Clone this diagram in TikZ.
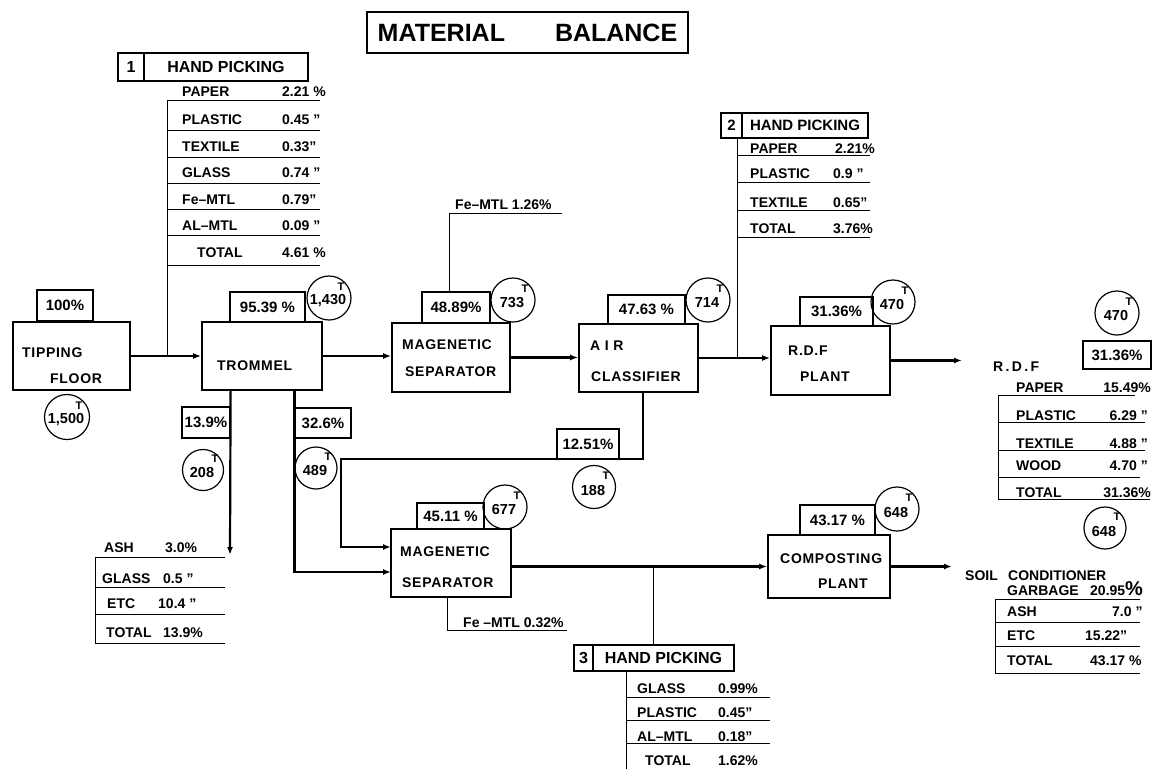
\documentclass[tikz,border=0pt]{standalone}
\usepackage{fontspec}
\setmainfont{Liberation Sans}
\newfontfamily\widefont[LetterSpace=5]{Liberation Sans}
\usetikzlibrary{arrows.meta,calc}
\tikzset{
  lbl/.style={font=\bfseries\fontsize{14}{14}\selectfont, inner sep=0pt, anchor=base west},
  vale/.style={font=\bfseries\fontsize{14}{14}\selectfont, inner sep=0pt, anchor=base east},
  boxlbl/.style={font=\widefont\bfseries\fontsize{14}{14}\selectfont, inner sep=0pt, anchor=base west},
  unit/.style={draw, line width=1.7pt, inner sep=0pt},
  pbox/.style={draw, line width=1.2pt, inner sep=0pt, font=\bfseries\fontsize{15}{15}\selectfont},
  ton/.style={draw, circle, line width=1.2pt, inner sep=0pt},
  tonnum/.style={font=\bfseries\fontsize{14.5}{14.5}\selectfont, inner sep=0pt},
  tmark/.style={font=\bfseries\fontsize{11}{11}\selectfont, inner sep=0pt},
  flow/.style={line width=2.2pt, -{Latex[length=8pt,width=6pt]}},
  rule/.style={line width=0.9pt},
  hpcell/.style={draw, line width=1.3pt, inner sep=0pt, font=\bfseries\fontsize{16}{16}\selectfont},
}
\newcommand\tonc[5]{%
  \node[ton, minimum size=#5pt] (#1) at (#2,#3) {};
  \node[tonnum] (#1n) at ($(#1)+(-1,3)$) {#4};
  \node[tmark] (#1t) at ($(#1)+(12,-11)$) {T};}
\begin{document}
\begin{tikzpicture}[x=1pt,y=-1pt]
\useasboundingbox (0,0) rectangle (1165,769);

% title
\node[draw, line width=2.6pt, minimum width=321pt, minimum height=41pt, inner sep=0pt,
      font=\bfseries\fontsize{25}{25}\selectfont] (title) at (527.5,32.5) {MATERIAL\hspace{50pt}BALANCE};

% process units
\node[unit, minimum width=117pt, minimum height=68pt] (tf) at (71.5,356) {};
\node[unit, minimum width=120pt, minimum height=68pt] (tr) at (262,356) {};
\node[unit, minimum width=118pt, minimum height=69pt] (ms1) at (451,357.5) {};
\node[unit, minimum width=119pt, minimum height=68pt] (ac) at (638.5,358) {};
\node[unit, minimum width=119pt, minimum height=69pt] (rdf) at (830.5,360.5) {};
\node[unit, minimum width=120pt, minimum height=68pt] (ms2) at (451,563) {};
\node[unit, minimum width=122pt, minimum height=63pt] (cp) at (829,566.5) {};

\node[boxlbl] (tfa) at (22,357) {TIPPING};
\node[boxlbl] (tfb) at (50,383) {FLOOR};
\node[boxlbl] (tra) at (217,370) {TROMMEL};
\node[boxlbl] (ms1a) at (402,349) {MAGENETIC};
\node[boxlbl] (ms1b) at (405,376) {SEPARATOR};
\node[boxlbl] (aca) at (590,350) {A I R};
\node[boxlbl] (acc) at (591,381) {CLASSIFIER};
\node[boxlbl] (rdfa) at (788,355) {R.D.F};
\node[boxlbl] (rdfb) at (800,381) {PLANT};
\node[boxlbl] (ms2a) at (400,556) {MAGENETIC};
\node[boxlbl] (ms2b) at (402,587) {SEPARATOR};
\node[boxlbl] (cpa) at (780,563) {COMPOSTING};
\node[boxlbl] (cpb) at (818,588) {PLANT};

% percentage boxes
\node[pbox, minimum width=56pt, minimum height=31pt] (p100) at (65,305.5) {100\%};
\node[pbox, minimum width=75pt, minimum height=30pt] (p9539) at (267.5,307) {95.39 \%};
\node[pbox, minimum width=68pt, minimum height=31pt] (p4889) at (456,307.5) {48.89\%};
\node[pbox, minimum width=77pt, minimum height=29pt] (p4763) at (646.5,309.5) {47.63 \%};
\node[pbox, minimum width=73pt, minimum height=29pt] (p3136) at (836.5,311.5) {31.36\%};
\node[pbox, minimum width=48pt, minimum height=31pt] (p139) at (206,422.5) {13.9\%};
\node[pbox, minimum width=56pt, minimum height=30pt] (p326) at (323,423) {32.6\%};
\node[pbox, minimum width=62pt, minimum height=30pt] (p1251) at (588,444) {12.51\%};
\node[pbox, minimum width=67pt, minimum height=26pt] (p4511) at (450.5,516) {45.11 \%};
\node[pbox, minimum width=75pt, minimum height=30pt] (p4317) at (837.5,520) {43.17 \%};
\node[pbox, minimum width=68pt, minimum height=28pt] (p3136b) at (1117,355) {31.36\%};

% tonnage circles
\tonc{c1500}{67}{417}{1,500}{45}
\tonc{c1430}{329}{298}{1,430}{44}
\tonc{c733}{513}{300}{733}{44}
\tonc{c714}{708}{300}{714}{44}
\tonc{c470}{893}{302}{470}{44}
\tonc{c208}{203}{470}{208}{41}
\tonc{c489}{316}{468}{489}{42}
\tonc{c188}{594}{487}{188}{43}
\tonc{c677}{505}{507}{677}{44}
\tonc{c648}{897}{509}{648}{44}
\tonc{c470b}{1117}{313}{470}{44}
\tonc{c648b}{1105}{528}{648}{42}

% main flows
\coordinate (rdfout) at (962,360.5);
\coordinate (cpout) at (952,566.5);
\coordinate (ashtop) at (230,555);
\coordinate (m2a) at (391,547);
\coordinate (m2b) at (391,572);
\coordinate (lp1) at (341,459);
\coordinate (acbot) at ($(ac.south)+(4.5,0)$);
\draw[flow] (tf.east) -- (tf.east -| tr.west);
\draw[flow] (tr.east) -- (tr.east -| ms1.west);
\draw[flow] (ms1.east) -- (ms1.east -| ac.west);
\draw[flow] (ac.east) -- (ac.east -| rdf.west);
\draw[flow] (rdf.east) -- (rdfout);
\draw[flow] (ms2.east |- cp.west) -- (cp.west);
\draw[flow] (cp.east) -- (cpout);
\draw[flow] (p139.east |- tr.south) -- (ashtop);
\draw[flow] (p326.west |- tr.south) |- (m2b);
\draw[flow] (acbot) |- (lp1) |- (m2a);

% hand picking 1
\node[hpcell, minimum width=26pt, minimum height=28pt] (hp1n) at (131,67) {1};
\node[hpcell, minimum width=164pt, minimum height=28pt] (hp1) at (226,67) {HAND PICKING};
\coordinate (l1top) at (167,100);
\draw[rule] (l1top) -- (l1top |- tf.east);
\foreach \y in {100,130,157,183,209,235,265} \draw[rule] (167,\y) -- (320,\y);
\node[lbl] (l1a) at (182,96) {PAPER};
\node[lbl] (l1b) at (182,124) {PLASTIC};
\node[lbl] (l1c) at (182,151) {TEXTILE};
\node[lbl] (l1d) at (182,177) {GLASS};
\node[lbl] (l1e) at (182,204) {Fe--MTL};
\node[lbl] (l1f) at (182,230) {AL--MTL};
\node[lbl] (l1g) at (197,257) {TOTAL};
\node[lbl] (v1a) at (282,96) {2.21 \%};
\node[lbl] (v1b) at (282,124) {0.45 "};
\node[lbl] (v1c) at (282,151) {0.33"};
\node[lbl] (v1d) at (282,177) {0.74 "};
\node[lbl] (v1e) at (282,204) {0.79"};
\node[lbl] (v1f) at (282,230) {0.09 "};
\node[lbl] (v1g) at (282,257) {4.61 \%};

% Fe-MTL from magnetic separator 1
\coordinate (fe1e) at (562,213);
\draw[rule] ($(p4889.north west)+(28,0)$) |- (fe1e);
\node[lbl] (fe1) at (455,209) {Fe--MTL 1.26\%};

% hand picking 2
\node[hpcell, minimum width=21pt, minimum height=25pt, font=\bfseries\fontsize{15}{15}\selectfont] (hp2n) at (731.5,125.5) {2};
\node[hpcell, minimum width=126pt, minimum height=25pt, font=\bfseries\fontsize{15}{15}\selectfont] (hp2) at (805,125.5) {HAND PICKING};
\coordinate (hp2l) at ($(hp2n.south east)+(-5,0)$);
\draw[rule] (hp2l) -- (hp2l |- ac.east);
\foreach \y in {155,182,210,237} \draw[rule] (737,\y) -- (870,\y);
\node[lbl] (l2a) at (750,153) {PAPER};
\node[lbl] (l2b) at (750,178) {PLASTIC};
\node[lbl] (l2c) at (750,207) {TEXTILE};
\node[lbl] (l2d) at (750,233) {TOTAL};
\node[lbl] (v2a) at (835,153) {2.21\%};
\node[lbl] (v2b) at (833,178) {0.9 "};
\node[lbl] (v2c) at (833,207) {0.65"};
\node[lbl] (v2d) at (833,233) {3.76\%};

% R.D.F product
\node[lbl] (rdfp) at (993,371) {R\,.\,D\,.\,F};
\draw[rule] (998,395) -- (998,499);
\foreach \y/\e in {395/1135,422/1145,450/1145,477/1140,499/1150} \draw[rule] (998,\y) -- (\e,\y);
\node[lbl] (l4a) at (1016,392) {PAPER};
\node[lbl] (l4b) at (1016,420) {PLASTIC};
\node[lbl] (l4c) at (1016,448) {TEXTILE};
\node[lbl] (l4d) at (1016,470) {WOOD};
\node[lbl] (l4e) at (1016,497) {TOTAL};
\node[vale] (v4a) at (1151,392) {15.49\%};
\node[vale] (v4b) at (1148,420) {6.29 "};
\node[vale] (v4c) at (1148,448) {4.88 "};
\node[vale] (v4d) at (1148,470) {4.70 "};
\node[vale] (v4e) at (1151,497) {31.36\%};

% soil conditioner
\node[lbl] (soil) at (965,580) {SOIL};
\node[lbl] (cond) at (1008,580) {CONDITIONER};
\node[lbl] (garb) at (1007,595) {GARBAGE};
\node[lbl] (vgarb) at (1090,595) {20.95{\fontsize{20}{20}\selectfont\%}};
\draw[rule] (995,599) -- (995,673);
\foreach \y in {599,622,646,673} \draw[rule] (995,\y) -- (1140,\y);
\node[lbl] (l5a) at (1007,616) {ASH};
\node[lbl] (l5b) at (1007,640) {ETC};
\node[lbl] (l5c) at (1007,665) {TOTAL};
\node[lbl] (v5a) at (1112,616) {7.0 "};
\node[lbl] (v5b) at (1085,640) {15.22"};
\node[lbl] (v5c) at (1090,665) {43.17 \%};

% ash branch
\draw[rule] (95,557) -- (95,643);
\foreach \y in {557,587,614,643} \draw[rule] (95,\y) -- (225,\y);
\node[lbl] (l6a) at (104,552) {ASH};
\node[lbl] (l6b) at (102,583) {GLASS};
\node[lbl] (l6c) at (107,608) {ETC};
\node[lbl] (l6d) at (106,637) {TOTAL};
\node[lbl] (v6a) at (165,552) {3.0\%};
\node[lbl] (v6b) at (163,583) {0.5 "};
\node[lbl] (v6c) at (158,608) {10.4 "};
\node[lbl] (v6d) at (163,637) {13.9\%};

% Fe-MTL from magnetic separator 2
\coordinate (fe2e) at (567,630);
\draw[rule] ($(ms2.south west)+(57,0)$) |- (fe2e);
\node[lbl] (fe2) at (463,627) {Fe --MTL 0.32\%};

% hand picking 3
\node[hpcell, minimum width=19pt, minimum height=26pt] (hp3n) at (583.5,658) {3};
\node[hpcell, minimum width=141pt, minimum height=26pt] (hp3) at (663.5,658) {HAND PICKING};
\coordinate (hp3c) at ($(hp3.north west)+(61,0)$);
\draw[rule] (hp3c) -- (hp3c |- cp.west);
\draw[rule] (626,671) -- (626,769);
\foreach \y in {697,720,743} \draw[rule] (626,\y) -- (770,\y);
\node[lbl] (l3a) at (637,693) {GLASS};
\node[lbl] (l3b) at (637,717) {PLASTIC};
\node[lbl] (l3c) at (637,741) {AL--MTL};
\node[lbl] (l3d) at (645,765) {TOTAL};
\node[lbl] (v3a) at (718,693) {0.99\%};
\node[lbl] (v3b) at (718,717) {0.45"};
\node[lbl] (v3c) at (718,741) {0.18"};
\node[lbl] (v3d) at (718,765) {1.62\%};
\end{tikzpicture}
\end{document}
